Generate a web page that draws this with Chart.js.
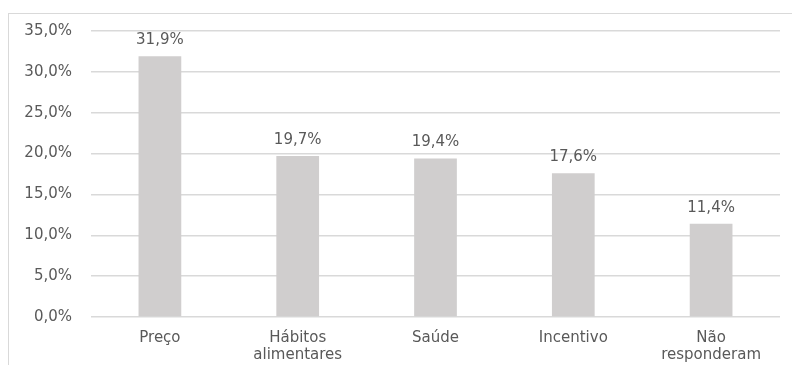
<!DOCTYPE html>
<html>
<head>
<meta charset="utf-8">
<script src="https://cdn.jsdelivr.net/npm/chart.js@4.4.1/dist/chart.umd.min.js"></script>
<style>
  html, body { margin: 0; padding: 0; background: #fff; }
  #wrap { position: relative; width: 792px; height: 365px; overflow: hidden; }
  #frame { position: absolute; left: 8px; top: 13px; width: 900px; height: 500px; border: 1px solid #d9d9d9; box-sizing: border-box; }
  #chart { position: absolute; left: 0; top: 0; }
</style>
</head>
<body>
<div id="wrap">
  <div id="frame"></div>
  <canvas id="chart" width="792" height="365"></canvas>
</div>
<script>
// ================= DATA =================
const categories = ["Preço", ["Hábitos", "alimentares"], "Saúde", "Incentivo", ["Não", "responderam"]];
const values = [31.9, 19.7, 19.4, 17.6, 11.4];
const yTicks = [0, 5, 10, 15, 20, 25, 30, 35];

const textColor = "#595959";
const fontFamily = "'DejaVu Sans', sans-serif";

function pct(v) {
  return v.toFixed(1).replace(".", ",") + "%";
}

// value labels above each bar
const barLabels = {
  id: "barLabels",
  afterDatasetsDraw(chart) {
    const ctx = chart.ctx;
    const meta = chart.getDatasetMeta(0);
    ctx.save();
    ctx.font = "15px " + fontFamily;
    ctx.fillStyle = textColor;
    ctx.textAlign = "center";
    ctx.textBaseline = "middle";
    meta.data.forEach((bar, i) => {
      ctx.fillText(pct(values[i]), bar.x, bar.y - 16);
    });
    ctx.restore();
  }
};

new Chart(document.getElementById("chart"), {
  type: "bar",
  data: {
    labels: categories,
    datasets: [{
      data: values,
      backgroundColor: "#d0cece",
      categoryPercentage: 1,
      barPercentage: 0.31
    }]
  },
  options: {
    responsive: false,
    animation: false,
    events: [],
    layout: { padding: { top: 31, right: 12, left: 0, bottom: 0 } },
    plugins: {
      legend: { display: false },
      tooltip: { enabled: false }
    },
    scales: {
      y: {
        min: 0,
        max: 35,
        afterFit(scale) { scale.width = 91; },
        afterBuildTicks(scale) { scale.ticks = yTicks.map(v => ({ value: v })); },
        border: { display: false },
        grid: { color: "#d9d9d9", lineWidth: 1.5, drawTicks: false },
        ticks: {
          padding: 19,
          color: textColor,
          font: { family: fontFamily, size: 15 },
          callback: v => pct(v)
        }
      },
      x: {
        afterFit(scale) { scale.height = 48; },
        border: { display: false },
        grid: { display: false, drawTicks: false },
        ticks: {
          padding: 13,
          maxRotation: 0,
          autoSkip: false,
          color: textColor,
          font: { family: fontFamily, size: 15, lineHeight: 1.12 }
        }
      }
    }
  },
  plugins: [barLabels]
});
</script>
</body>
</html>
